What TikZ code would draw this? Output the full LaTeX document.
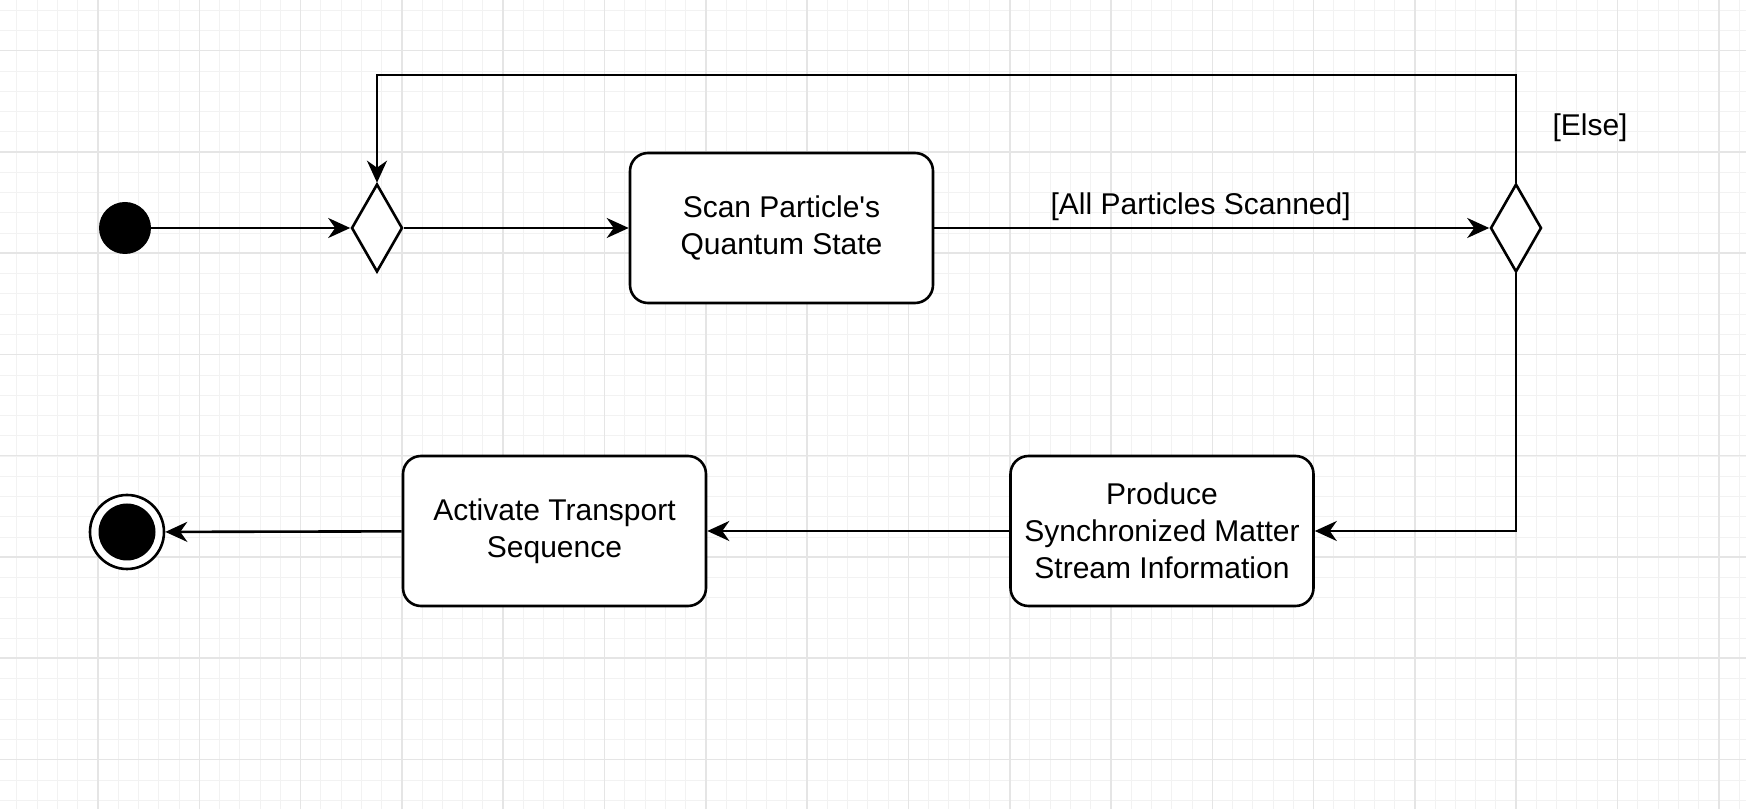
\documentclass[tikz,border=0pt]{standalone}
\usepackage{fontspec}
\setmainfont{Liberation Sans}[Ligatures=TeXOff]
\usetikzlibrary{arrows.meta,shapes.geometric}
\definecolor{gridmajor}{HTML}{E5E5E5}
\definecolor{gridminor}{HTML}{F2F2F2}
\tikzset{every node/.style={font=\fontsize{15}{18.5}\selectfont},
  majorgrid/.style={draw=gridmajor,line width=0.8pt},
  minorgrid/.style={draw=gridminor,line width=0.5pt},
  action/.style={draw,fill=white,rounded corners=9pt,line width=1.3pt,align=center,
    minimum width=151.5pt,minimum height=75pt,inner sep=2pt},
  choice/.style={diamond,draw,fill=white,line width=1.3pt,minimum width=25.5pt,
    minimum height=44pt,inner sep=0pt},
  startdot/.style={circle,fill=black,minimum size=26pt,inner sep=0pt},
  flow/.style={line width=1.3pt,-{Stealth[length=11pt,width=10pt,inset=3.5pt]}},
  guard/.style={inner sep=3pt}}

\begin{document}
\begin{tikzpicture}[x=0.5pt,y=0.5pt]
  \path[use as bounding box,fill=white] (0,0) rectangle (1746,809);
  \foreach \i in {1,...,86}
    \draw[minorgrid] ({-3.3+20.26*\i},0) -- ++(0,809);
  \foreach \j in {0,...,39}
    \draw[minorgrid] (0,{8.5+20.26*\j}) -- ++(1746,0);
  \foreach \i in {1,...,17}
    \draw[majorgrid] ({-3.3+101.3*\i},0) -- ++(0,809);
  \foreach \j in {0,...,7}
    \draw[majorgrid] (0,{49.4+101.3*\j}) -- ++(1746,0);

  \node[startdot] (start) at (125,581) {};
  \node[choice] (merge) at (377,581) {};
  \node[action] (scan) at (781.5,581) {Scan Particle's\\Quantum State};
  \node[choice] (check) at (1516,581) {};
  \node[action] (produce) at (1162,278) {Produce\\Synchronized Matter\\Stream Information};
  \node[action] (activate) at (554.5,278) {Activate Transport\\Sequence};
  \node[circle,draw,fill=white,line width=1.3pt,minimum size=37pt,inner sep=0pt]
    (finish) at (127,277) {};
  \node[startdot,minimum size=28.5pt] (finishdot) at (finish) {};
  \coordinate (looptop) at (1516,734);
  \node[guard] (else) at (1590,681) {[Else]};

  \draw[flow] (start) -- (merge);
  \draw[flow] (merge) -- (scan);
  \draw[flow] (scan) -- node[guard,above,pos=0.48] (allscanned) {[All Particles Scanned]} (check);
  \draw[flow] (check.north) -- (looptop) -| (merge.north);
  \draw[flow] (check.south) |- (produce.east);
  \draw[flow] (produce) -- (activate);
  \draw[flow] (activate) -- (finish);
\end{tikzpicture}
\end{document}
